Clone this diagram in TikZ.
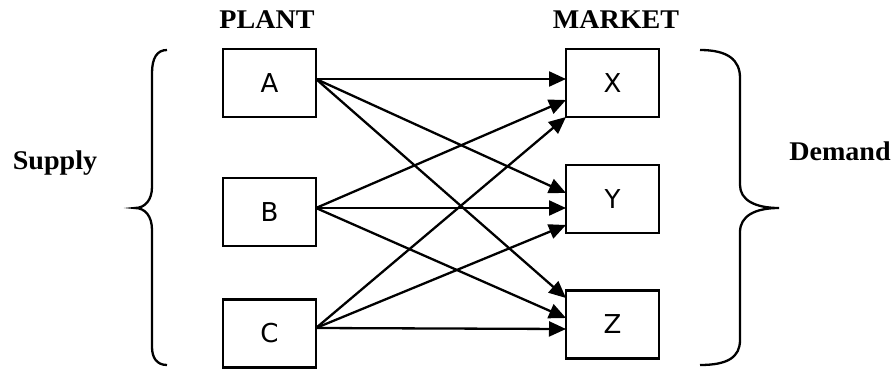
\documentclass[tikz,border=0pt]{standalone}
\usepackage{fontspec}
\usepackage{graphicx}
\setmainfont{Liberation Serif}
\newfontfamily\boxfont{DejaVu Sans}
\usetikzlibrary{arrows.meta}
\newcommand{\wide}[1]{\scalebox{1.04}[1]{#1}}
\begin{document}
\begin{tikzpicture}[x=1pt,y=-1pt,
  box/.style={draw,line width=2.3pt,minimum width=93pt,minimum height=68pt,inner sep=0pt,outer sep=0pt,
              font=\boxfont\fontsize{26}{30}\selectfont},
  title/.style={anchor=base,inner sep=0pt,font=\bfseries\fontsize{27}{32}\selectfont},
  flow/.style={line width=2.3pt,-{Triangle[length=17pt,width=15pt]}},
  brace/.style={line width=2.3pt}]
\useasboundingbox (0,0) rectangle (892,370);
% plants
\node[box] (A) at (269.5,83) {A};
\node[box] (B) at (269.5,212) {B};
\node[box] (C) at (269.5,333.5) {C};
% markets
\node[box] (X) at (612.5,83) {X};
\node[box] (Y) at (612.5,199) {Y};
\node[box] (Z) at (612.5,324.5) {Z};
% titles
\node[title] (plant) at (267,28) {\wide{PLANT}};
\node[title] (market) at (616,28) {\wide{MARKET}};
\node[title] (supply) at (55,169) {\wide{Supply}};
\node[title] (demand) at (840,160) {\wide{Demand}};
% arrows
\draw[flow] ([yshift=4pt]A.east) -- ([yshift=4pt]X.west);
\draw[flow] ([yshift=4pt]A.east) -- ([yshift=6pt]Y.west);
\draw[flow] ([yshift=4pt]A.east) -- ([yshift=26.5pt]Z.west);
\draw[flow] ([yshift=4pt]B.east) -- ([yshift=-17pt]X.west);
\draw[flow] ([yshift=4pt]B.east) -- ([yshift=-9pt]Y.west);
\draw[flow] ([yshift=4pt]B.east) -- ([yshift=6.5pt]Z.west);
\draw[flow] ([yshift=5.5pt]C.east) -- (X.south west);
\draw[flow] ([yshift=5.5pt]C.east) -- ([yshift=-26pt]Y.west);
\draw[flow] ([yshift=5.5pt]C.east) -- ([yshift=-4.5pt]Z.west);
% braces
\draw[brace] (167,50) .. controls (157,50) and (152,58) .. (152,73) -- (152,187)
  .. controls (152,200) and (145,208) .. (135,208)
  .. controls (145,208) and (152,216) .. (152,230) -- (152,347)
  .. controls (152,358) and (157,365) .. (167,365);
\draw[brace] (700,50) .. controls (728,50) and (740,60) .. (740,78) -- (740,185)
  .. controls (740,200) and (755,208) .. (779,208)
  .. controls (755,208) and (740,216) .. (740,232) -- (740,340)
  .. controls (740,357) and (728,365) .. (700,365);
\end{tikzpicture}
\end{document}
